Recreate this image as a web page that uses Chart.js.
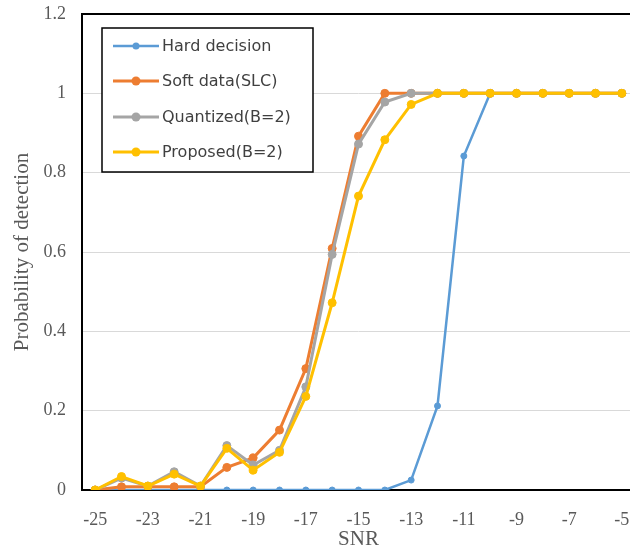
<!DOCTYPE html>
<html>
<head>
<meta charset="utf-8">
<script src="https://cdn.jsdelivr.net/npm/chart.js@4"></script>
<style>
html,body{margin:0;padding:0;background:#fff;overflow:hidden;}
#wrap{width:640px;height:552px;position:relative;}
</style>
</head>
<body>
<div id="wrap"><canvas id="c" width="640" height="552"></canvas></div>
<script>
const snrLabels = ['-25','-24','-23','-22','-21','-20','-19','-18','-17','-16','-15','-14','-13','-12','-11','-10','-9','-8','-7','-6','-5'];
const hardDecision = [0,0,0,0,0,0,0,0,0,0,0,0,0.025,0.212,0.842,1,1,1,1,1,1];
const softData = [0,0.008,0.008,0.008,0.008,0.057,0.081,0.151,0.306,0.609,0.892,1,1,1,1,1,1,1,1,1,1];
const quantized = [0,0.03,0.01,0.046,0.01,0.112,0.063,0.10,0.26,0.594,0.872,0.978,1,1,1,1,1,1,1,1,1];
const proposed = [0,0.034,0.01,0.04,0.01,0.105,0.05,0.095,0.236,0.472,0.741,0.883,0.972,1,1,1,1,1,1,1,1];
const seriesNames = ['Hard decision','Soft data(SLC)','Quantized(B=2)','Proposed(B=2)'];
const yTickLabels = ['0','0.2','0.4','0.6','0.8','1','1.2'];

const colors = ['#5B9BD5','#ED7D31','#A5A5A5','#FFC000'];
const serif = "'Liberation Serif','Times New Roman',serif";

function ds(i, data, order, lw, pr){
  return {
    label: seriesNames[i], data: data, order: order,
    borderColor: colors[i], backgroundColor: colors[i],
    pointBackgroundColor: colors[i], pointBorderColor: colors[i],
    borderWidth: lw, pointRadius: pr, pointBorderWidth: 1, tension: 0, fill: false
  };
}

const framePlugin = {
  id: 'frame',
  beforeDatasetsDraw(chart){
    const {ctx, chartArea: a} = chart;
    ctx.save();
    const bx = 102, by = 28, bw = 211, bh = 144;
    ctx.fillStyle = '#fff';
    ctx.fillRect(bx, by, bw, bh);
    ctx.strokeStyle = '#000';
    ctx.lineWidth = 1.5;
    ctx.strokeRect(bx, by, bw, bh);
    ctx.lineWidth = 2;
    ctx.beginPath();
    ctx.moveTo(a.right + 5, a.top);
    ctx.lineTo(a.left, a.top);
    ctx.lineTo(a.left, a.bottom);
    ctx.lineTo(a.right + 5, a.bottom);
    ctx.stroke();
    ctx.restore();
  },
  afterDatasetsDraw(chart){
    const {ctx} = chart;
    ctx.save();
    const rows = [46, 81, 117, 152];
    chart.data.datasets.forEach((d, i) => {
      const y = rows[i];
      ctx.strokeStyle = d.borderColor;
      ctx.lineWidth = i === 0 ? 2.5 : 3;
      ctx.beginPath();
      ctx.moveTo(113, y); ctx.lineTo(159, y);
      ctx.stroke();
      ctx.fillStyle = d.borderColor;
      ctx.beginPath();
      ctx.arc(136, y, i === 0 ? 3.5 : 4.5, 0, Math.PI * 2);
      ctx.fill();
      ctx.fillStyle = '#404040';
      ctx.font = "16px 'DejaVu Sans', sans-serif";
      ctx.textBaseline = 'middle';
      ctx.textAlign = 'left';
      ctx.fillText(d.label, 162, y + 1);
    });
    ctx.restore();
  }
};

function zeroPad(s){ s.paddingTop = 0; s.paddingBottom = 0; s.paddingLeft = 0; s.paddingRight = 0; }

new Chart(document.getElementById('c'), {
  type: 'line',
  data: {
    labels: snrLabels,
    datasets: [
      ds(0, hardDecision, 4, 2.5, 3),
      ds(1, softData, 3, 3, 4),
      ds(2, quantized, 2, 3, 4),
      ds(3, proposed, 1, 3, 4)
    ]
  },
  options: {
    responsive: false,
    animation: false,
    layout: { padding: { top: 14, right: 5, left: 0, bottom: 0 } },
    plugins: { legend: { display: false }, tooltip: { enabled: false } },
    scales: {
      x: {
        type: 'category',
        offset: true,
        grid: { display: false, drawTicks: false },
        border: { display: false },
        ticks: {
          autoSkip: false, maxRotation: 0, minRotation: 0, padding: 19,
          color: '#595959', font: { family: serif, size: 18 },
          callback: (v, i) => (i % 2 === 0 ? snrLabels[i] : '')
        },
        title: { display: true, text: 'SNR', color: '#595959', font: { family: serif, size: 21 }, padding: { top: 0, bottom: 0 } },
        afterFit: s => { s.height = 62; zeroPad(s); }
      },
      y: {
        min: 0, max: 1.2,
        grid: { color: '#D9D9D9', lineWidth: 1, drawTicks: false },
        border: { display: false },
        ticks: {
          stepSize: 0.2, padding: 16, color: '#595959',
          font: { family: serif, size: 18 },
          callback: (v, i) => yTickLabels[i]
        },
        title: { display: true, text: 'Probability of detection', color: '#595959', font: { family: serif, size: 21 }, padding: { top: 10, bottom: 0 } },
        afterFit: s => { s.width = 82; zeroPad(s); }
      }
    }
  },
  plugins: [framePlugin]
});
</script>
</body>
</html>
